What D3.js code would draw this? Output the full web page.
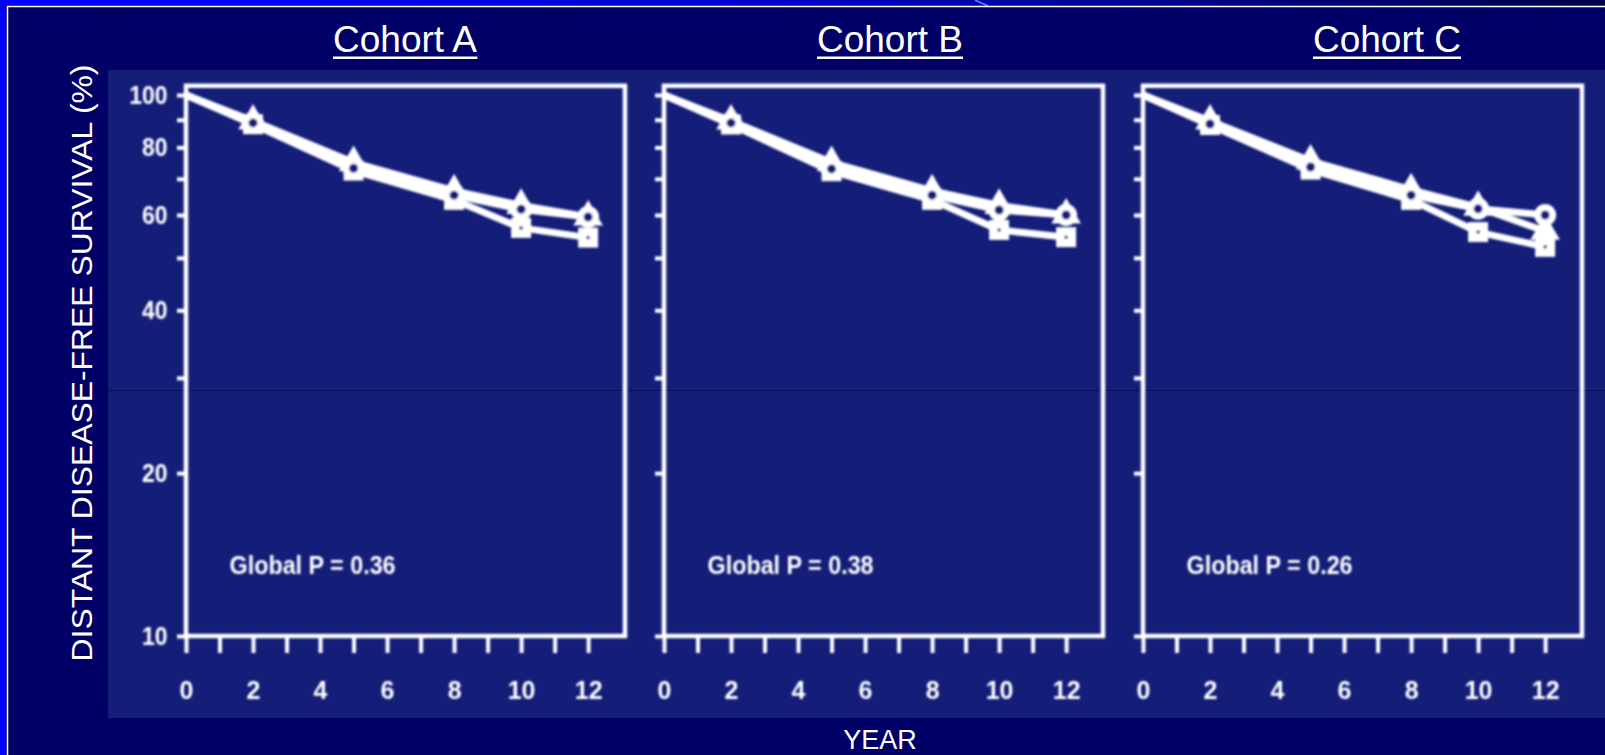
<!DOCTYPE html>
<html>
<head>
<meta charset="utf-8">
<script src="https://cdn.jsdelivr.net/npm/d3@7"></script>
<style>
  html, body { margin: 0; padding: 0; background: #000066; }
  svg { display: block; }
</style>
</head>
<body>
<div id="slide"></div>
<script>
// ---- données ----
const cohorts = ["Cohort A", "Cohort B", "Cohort C"];
const pLabels = ["Global P = 0.36", "Global P = 0.38", "Global P = 0.26"];
const years = [0, 2, 5, 8, 10, 12];

// survie (%) par cohorte, une ligne par bras
const survTriangle = [
  [100, 89.5, 75, 66.5, 62.5, 59.5],
  [100, 89.5, 75, 66.5, 62.5, 60],
  [100, 89.5, 75.5, 66.8, 62, 56]
];
const survCircle = [
  [100, 88.8, 73.2, 65.3, 61.5, 59.5],
  [100, 88.8, 73, 65.3, 61.3, 60],
  [100, 88.4, 73.6, 65.3, 61.6, 60]
];
const survSquare = [
  [100, 88.3, 72.5, 64, 56.8, 54.5],
  [100, 88.2, 72.3, 64, 56.3, 54.6],
  [100, 88, 72.8, 64, 55.8, 52.4]
];

const yTicks = [100, 90, 80, 70, 60, 50, 40, 30, 20, 10];
const yLabels = [100, 80, 60, 40, 20, 10];
const xTicks = [0, 1, 2, 3, 4, 5, 6, 7, 8, 9, 10, 11, 12];
const xLabels = [0, 2, 4, 6, 8, 10, 12];

// ---- mise en page ----
const W = 1605, H = 755;
const panelLeft = [186, 664, 1143];
const titleX = [405, 890, 1387];
const plotW = 439;
const navy = "#000066", inner = "#141e78";
const font = "Liberation Sans, Arial, sans-serif";

const svg = d3.select("#slide").append("svg")
  .attr("width", W).attr("height", H);

const defs = svg.append("defs");
const grad = defs.append("linearGradient").attr("id", "topband");
grad.append("stop").attr("offset", "0%").attr("stop-color", "#0000ff");
grad.append("stop").attr("offset", "45%").attr("stop-color", "#0000d8");
grad.append("stop").attr("offset", "100%").attr("stop-color", "#00004a");
defs.append("filter").attr("id", "scan")
  .append("feGaussianBlur").attr("stdDeviation", 0.9);

// fond de la diapo
svg.append("rect").attr("width", W).attr("height", H).attr("fill", navy);
svg.append("rect").attr("x", 0).attr("y", 0).attr("width", W).attr("height", 5)
  .attr("fill", "url(#topband)");
svg.append("rect").attr("x", 0).attr("y", 0).attr("width", 6).attr("height", H)
  .attr("fill", "#0000ff");
svg.append("path").attr("d", "M975,0 L988,6").attr("stroke", "#5a8cff").attr("stroke-width", 1.5);
svg.append("line").attr("x1", 7).attr("x2", W).attr("y1", 6.5).attr("y2", 6.5)
  .attr("stroke", "#ffffff").attr("stroke-width", 1.5);
svg.append("line").attr("x1", 7.5).attr("x2", 7.5).attr("y1", 6).attr("y2", H)
  .attr("stroke", "#ffffff").attr("stroke-width", 1.5);

// image scannée (fond plus clair)
svg.append("rect").attr("x", 108).attr("y", 70).attr("width", W - 108).attr("height", 648)
  .attr("fill", inner);
svg.append("line").attr("x1", 108).attr("x2", W).attr("y1", 390.5).attr("y2", 390.5)
  .attr("stroke", "#06105a").attr("stroke-width", 1);

// titres des cohortes
cohorts.forEach((c, i) => {
  const t = svg.append("text")
    .attr("x", titleX[i]).attr("y", 52)
    .attr("text-anchor", "middle")
    .attr("fill", "#ffffff")
    .style("font-family", font)
    .style("font-size", "37px")
    .text(c);
  const bb = t.node().getBBox();
  svg.append("rect").attr("x", bb.x).attr("y", 56.5).attr("width", bb.width).attr("height", 2.5)
    .attr("fill", "#ffffff");
});

// titres d'axes
svg.append("text")
  .attr("transform", "translate(92,363) rotate(-90)")
  .attr("text-anchor", "middle")
  .attr("fill", "#ffffff")
  .attr("textLength", 597).attr("lengthAdjust", "spacingAndGlyphs")
  .style("font-family", font)
  .style("font-size", "30px")
  .text("DISTANT DISEASE-FREE SURVIVAL (%)");

svg.append("text")
  .attr("x", 880).attr("y", 749)
  .attr("text-anchor", "middle")
  .attr("fill", "#ffffff")
  .style("font-family", font)
  .style("font-size", "27px")
  .text("YEAR");

// ---- échelles ----
const x = d3.scaleLinear().domain([0, 13.1]).range([0, plotW]);
const y = d3.scaleLog().domain([10, 100]).range([636, 95]);

const line = d3.line()
  .x((d, i) => x(years[i]))
  .y(d => y(d));

const series = [survSquare, survTriangle, survCircle];

cohorts.forEach((c, k) => {
  const g = svg.append("g")
    .attr("transform", `translate(${panelLeft[k]},0)`)
    .attr("filter", "url(#scan)");

  // cadre
  g.append("rect")
    .attr("x", x(0)).attr("y", y(104))
    .attr("width", x(13.1) - x(0)).attr("height", y(10) - y(104))
    .attr("fill", "none").attr("stroke", "#ffffff").attr("stroke-width", 4.5);

  // axe Y (échelle log) : chiffres seulement sur le premier panneau
  const ay = g.append("g")
    .call(d3.axisLeft(y).tickValues(yTicks).tickSize(9).tickPadding(11)
      .tickFormat(d => (k === 0 && yLabels.includes(d)) ? d : ""));
  ay.select(".domain").remove();
  ay.selectAll("line").attr("stroke", "#ffffff").attr("stroke-width", 4);
  ay.selectAll("text").attr("fill", "#ffffff")
    .style("font-family", font)
    .style("font-weight", "bold").style("font-size", "25px")
    .attr("transform", "scale(0.92,1)");

  // axe X
  const ax = g.append("g").attr("transform", `translate(0,${y(10)})`)
    .call(d3.axisBottom(x).tickValues(xTicks).tickSize(17).tickPadding(28)
      .tickFormat(d => xLabels.includes(d) ? d : ""));
  ax.select(".domain").remove();
  ax.selectAll("line").attr("stroke", "#ffffff").attr("stroke-width", 4);
  ax.selectAll("text").attr("fill", "#ffffff")
    .style("font-family", font)
    .style("font-weight", "bold").style("font-size", "25px");

  // courbes
  series.forEach(s => {
    g.append("path")
      .attr("d", line(s[k]))
      .attr("fill", "none")
      .attr("stroke", "#ffffff")
      .attr("stroke-width", 7)
      .attr("stroke-linejoin", "round");
  });

  // symboles (pas au temps 0)
  const pts = (arr) => arr.map((v, i) => ({yr: years[i], v})).filter(d => d.yr > 0);

  g.selectAll(".sq").data(pts(survSquare[k])).join("rect")
    .attr("x", d => x(d.yr) - 10).attr("y", d => y(d.v) - 10)
    .attr("width", 20).attr("height", 20).attr("fill", "#ffffff");
  g.selectAll(".sqdot").data(pts(survSquare[k])).join("circle")
    .attr("cx", d => x(d.yr)).attr("cy", d => y(d.v)).attr("r", 1.8).attr("fill", inner);

  g.selectAll(".tri").data(pts(survTriangle[k])).join("path")
    .attr("transform", d => `translate(${x(d.yr)},${y(d.v)})`)
    .attr("d", d3.symbol(d3.symbolTriangle, 380))
    .attr("fill", "#ffffff");

  g.selectAll(".ci").data(pts(survCircle[k])).join("circle")
    .attr("cx", d => x(d.yr)).attr("cy", d => y(d.v)).attr("r", 11).attr("fill", "#ffffff");
  g.selectAll(".cidot").data(pts(survCircle[k])).join("circle")
    .attr("cx", d => x(d.yr)).attr("cy", d => y(d.v)).attr("r", 4.5).attr("fill", inner);

  // p global
  g.append("text")
    .attr("x", x(1.3)).attr("y", y(13.5) + 9)
    .attr("fill", "#ffffff")
    .attr("textLength", 166).attr("lengthAdjust", "spacingAndGlyphs")
    .style("font-family", font)
    .style("font-weight", "bold").style("font-size", "25px")
    .text(pLabels[k]);
});
</script>
</body>
</html>
